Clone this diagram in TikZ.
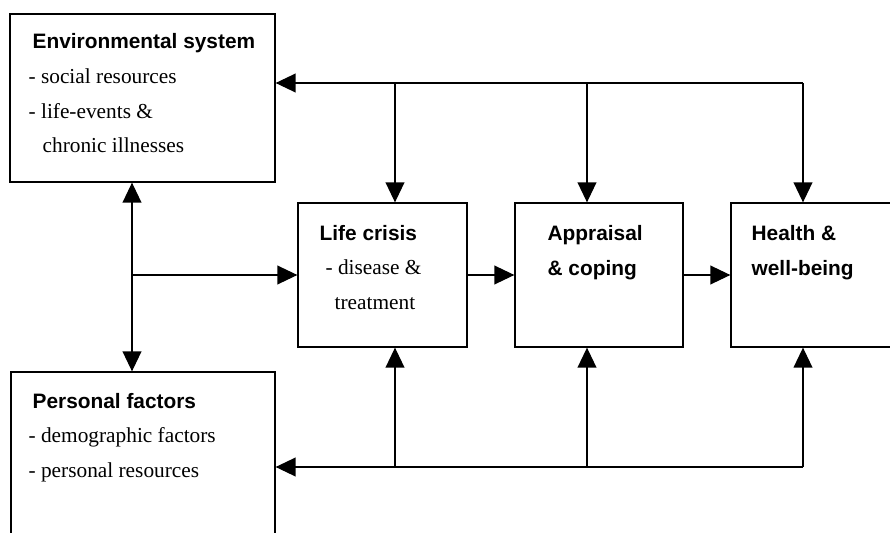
\documentclass[tikz,border=0pt]{standalone}
\usepackage{fontspec}
\setmainfont{Liberation Serif}
\newfontfamily\headfont{Liberation Sans}
\usepackage{tikz}
\usetikzlibrary{arrows.meta}

\begin{document}
\begin{tikzpicture}[x=0.03cm,y=-0.03cm,line width=1.1pt,
	box/.style={draw,rectangle,inner sep=0pt},
	head/.style={font=\headfont\bfseries\fontsize{17.8}{20}\selectfont,anchor=base west,inner sep=0pt},
	item/.style={font=\fontsize{18.2}{20}\selectfont,anchor=base west,inner sep=0pt},
	arr/.style={-{Triangle[length=17pt,width=16pt]}},
	arrs/.style={{Triangle[length=17pt,width=16pt]}-{Triangle[length=17pt,width=16pt]}}]
	\useasboundingbox (0,0) rectangle (890,533);
	\node[box,minimum width=7.95cm,minimum height=5.04cm] (env) at (142.5,98) {}; %environment
	\node[box,minimum width=7.92cm,minimum height=5.64cm] (pers) at (143,466) {}; %personal
	\node[box,minimum width=5.07cm,minimum height=4.32cm] (life) at (382.5,275) {}; %life crisis
	\node[box,minimum width=5.04cm,minimum height=4.32cm] (appr) at (599,275) {}; %appraisal
	\node[box,minimum width=5.07cm,minimum height=4.32cm] (health) at (815.5,275) {}; %health
	\node[head] (envT) at (32,48.5) {Environmental system};
	\node[item] (envA) at (28,83) {- social resources};
	\node[item] (envB) at (28,118.5) {- life-events \&};
	\node[item] (envC) at (42,152) {chronic illnesses};
	\node[head] (persT) at (32,408) {Personal factors};
	\node[item] (persA) at (28,442.5) {- demographic factors};
	\node[item] (persB) at (28,477.5) {- personal resources};
	\node[head] (lifeT) at (319,240) {Life crisis};
	\node[item] (lifeA) at (325,274.5) {- disease \&};
	\node[item] (lifeB) at (334,309.5) {treatment};
	\node[head] (apprT) at (547,240) {Appraisal};
	\node[head] (apprA) at (547,275) {\& coping};
	\node[head] (healthT) at (751,240) {Health \&};
	\node[head] (healthA) at (751,275) {well-being};
	\coordinate (t1) at (395,83); %top line
	\coordinate (t2) at (587,83);
	\coordinate (t3) at (803,83);
	\coordinate (b1) at (395,467); %bottom line
	\coordinate (b2) at (587,467);
	\coordinate (b3) at (803,467);
	\coordinate (v) at (132,275); %left line
	\draw[arr] (t3) -- (env.east |- t3);
	\foreach \i/\n in {1/life,2/appr,3/health}{
		\draw[arr] (t\i) -- (\n.north -| t\i);
		\draw[arr] (b\i) -- (\n.south -| b\i);
	}
	\draw[arr] (b3) -- (pers.east |- b3);
	\draw[arrs] (env.south -| v) -- (pers.north -| v);
	\draw[arr] (v) -- (life.west);
	\draw[arr] (life.east) -- (appr.west);
	\draw[arr] (appr.east) -- (health.west);
\end{tikzpicture}
\end{document}
